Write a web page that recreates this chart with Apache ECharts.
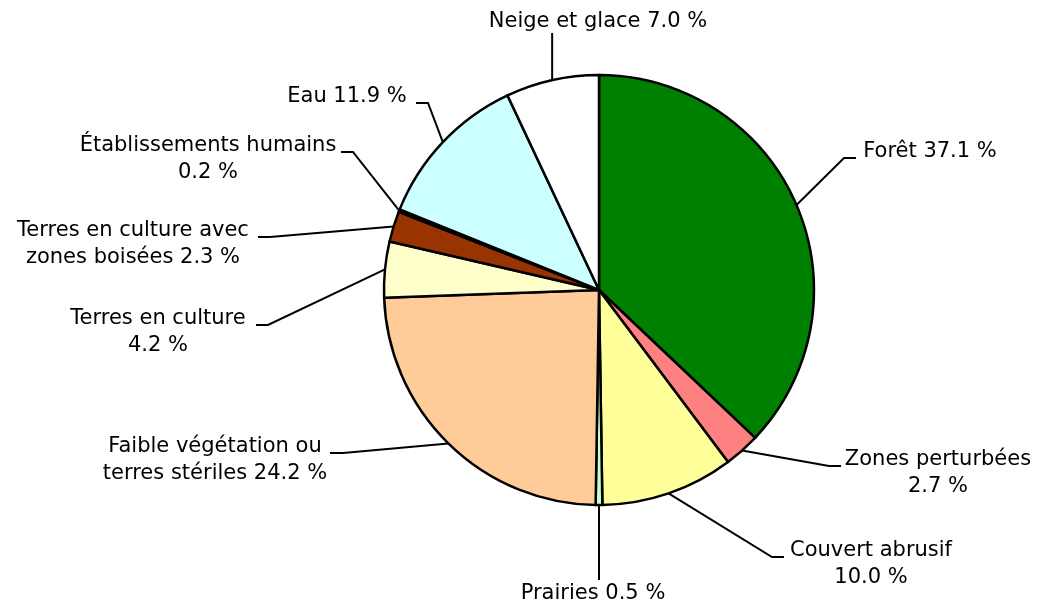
<!DOCTYPE html>
<html><head><meta charset="utf-8">
<script src="https://cdn.jsdelivr.net/npm/echarts@6/dist/echarts.min.js"></script>
<style>html,body{margin:0;padding:0;background:#fff}#c{width:1037px;height:605px}</style>
</head><body><div id="c"></div>
<script>
const categories = ['Forêt', 'Zones perturbées', 'Couvert abrusif', 'Prairies',
  'Faible végétation ou\nterres stériles', 'Terres en culture',
  'Terres en culture avec\nzones boisées', 'Établissements humains', 'Eau', 'Neige et glace'];
const values = [37.1, 2.7, 10.0, 0.5, 24.2, 4.2, 2.3, 0.2, 11.9, 7.0];
const valueOnNewLine = [false, true, true, false, false, true, false, true, false, false];
const colors = ['#008000', '#FF8080', '#FFFF99', '#CCFFCC', '#FFCC99', '#FFFFCC', '#993300', '#000000', '#CCFFFF', '#FFFFFF'];

// label placement (layout only): text centre x, first-line baseline, hook end x, elbow x
const labelPos = [
  {type: 'h', tx: 930, by: 158, hx: 856, ex: 844},
  {type: 'h', tx: 938, by: 466, hx: 841, ex: 829},
  {type: 'h', tx: 871, by: 557, hx: 784, ex: 772},
  {type: 'v', tx: 593, by: 600, ly: 580},
  {type: 'h', tx: 215, by: 453, hx: 330, ex: 343},
  {type: 'h', tx: 158, by: 325, hx: 256, ex: 268},
  {type: 'h', tx: 133, by: 237, hx: 258, ex: 270},
  {type: 'h', tx: 208, by: 152, hx: 341, ex: 353},
  {type: 'h', tx: 347, by: 103, hx: 416, ex: 428},
  {type: 'v', tx: 598, by: 28, ly: 33}
];
const BASE_OFFSET = 20;

const chart = echarts.init(document.getElementById('c'), null, {renderer: 'canvas'});
chart.setOption({
  animation: false,
  backgroundColor: '#fff',
  series: [{
    type: 'pie',
    center: [599, 290],
    radius: 215,
    startAngle: 90,
    clockwise: true,
    avoidLabelOverlap: false,
    emphasis: {disabled: true},
    itemStyle: {borderColor: '#000', borderWidth: 2.5},
    label: {
      show: true,
      position: 'outside',
      fontFamily: 'DejaVu Sans',
      fontSize: 21,
      lineHeight: 27,
      color: '#000',
      formatter: function (p) {
        return p.name + (valueOnNewLine[p.dataIndex] ? '\n' : ' ') + p.value.toFixed(1) + ' %';
      }
    },
    labelLine: {show: true, length: 10, length2: 10, lineStyle: {color: '#000', width: 2}},
    labelLayout: function (params) {
      const p = labelPos[params.dataIndex];
      const a = params.labelLinePoints[0];
      let pts;
      if (p.type === 'h') pts = [a, [p.ex, p.by], [p.hx, p.by]];
      else pts = [a, [a[0], p.ly], [a[0], p.ly]];
      return {x: p.tx, y: p.by - BASE_OFFSET, align: 'center', verticalAlign: 'top', labelLinePoints: pts};
    },
    data: categories.map(function (c, i) {
      return {name: c, value: values[i], itemStyle: {color: colors[i]}};
    })
  }]
});
</script>
</body></html>
